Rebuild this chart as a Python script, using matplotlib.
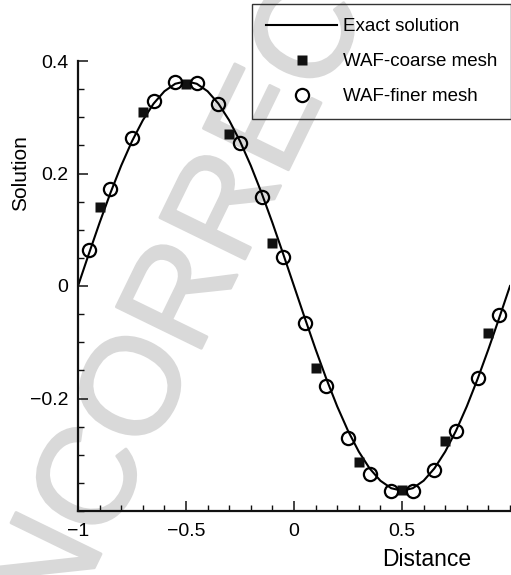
import matplotlib.pyplot as plt
from matplotlib import patheffects
from matplotlib.ticker import MultipleLocator

plt.rcParams['font.family'] = ['Liberation Sans', 'DejaVu Sans']

# exact solution sampled every 0.05
x_exact = [-1.00, -0.95, -0.90, -0.85, -0.80, -0.75, -0.70, -0.65, -0.60, -0.55,
           -0.50, -0.45, -0.40, -0.35, -0.30, -0.25, -0.20, -0.15, -0.10, -0.05,
           0.00, 0.05, 0.10, 0.15, 0.20, 0.25, 0.30, 0.35, 0.40, 0.45,
           0.50, 0.55, 0.60, 0.65, 0.70, 0.75, 0.80, 0.85, 0.90, 0.95, 1.00]
y_exact = [0.0, 0.0569, 0.1125, 0.1653, 0.2140, 0.2574, 0.2945, 0.3243, 0.3462, 0.3595,
           0.3640, 0.3595, 0.3462, 0.3243, 0.2945, 0.2574, 0.2140, 0.1653, 0.1125, 0.0569,
           0.0, -0.0569, -0.1125, -0.1653, -0.2140, -0.2574, -0.2945, -0.3243, -0.3462, -0.3595,
           -0.3640, -0.3595, -0.3462, -0.3243, -0.2945, -0.2574, -0.2140, -0.1653, -0.1125, -0.0569, 0.0]

# WAF, coarse mesh
x_coarse = [-0.9, -0.7, -0.5, -0.3, -0.1, 0.1, 0.3, 0.5, 0.7, 0.9]
y_coarse = [0.140, 0.310, 0.359, 0.271, 0.077, -0.145, -0.312, -0.363, -0.275, -0.083]

# WAF, finer mesh
x_fine = [-0.95, -0.85, -0.75, -0.65, -0.55, -0.45, -0.35, -0.25, -0.15, -0.05,
          0.05, 0.15, 0.25, 0.35, 0.45, 0.55, 0.65, 0.75, 0.85, 0.95]
y_fine = [0.064, 0.173, 0.264, 0.329, 0.363, 0.361, 0.324, 0.254, 0.159, 0.052,
          -0.066, -0.177, -0.270, -0.335, -0.365, -0.365, -0.327, -0.258, -0.164, -0.052]

x_ticks = [-1, -0.5, 0, 0.5]
x_ticklabels = ['\u22121', '\u22120.5', '0', '0.5']
y_ticks = [-0.2, 0, 0.2, 0.4]
y_ticklabels = ['\u22120.2', '0', '0.2', '0.4']

fig = plt.figure(figsize=(5.11, 5.75), dpi=100)
ax = fig.add_axes([78 / 511, 64 / 575, 432 / 511, 450 / 575])
ax.set_facecolor('none')

# grey stamp running diagonally behind the plot
wm = fig.text(0.44, 0.478, 'INCORRECT', rotation=64, rotation_mode='anchor',
              ha='center', va='baseline', fontsize=99, color='#d9d9d9', zorder=-1)
wm.set_path_effects([patheffects.withStroke(linewidth=2, foreground='#d9d9d9')])

ax.plot(x_exact, y_exact, color='black', lw=1.5, label='Exact solution', zorder=2)
ax.plot(x_coarse, y_coarse, ls='none', marker='s', ms=7.5, mfc='#111111', mec='none',
        label='WAF-coarse mesh', zorder=3)
ax.plot(x_fine, y_fine, ls='none', marker='o', ms=9.5, mfc='none', mec='black', mew=1.6,
        label='WAF-finer mesh', zorder=3)

ax.set_xlim(-1, 1)
ax.set_ylim(-0.4, 0.4)
ax.set_xticks(x_ticks)
ax.set_xticklabels(x_ticklabels)
ax.set_yticks(y_ticks)
ax.set_yticklabels(y_ticklabels)
ax.xaxis.set_minor_locator(MultipleLocator(0.1))
ax.yaxis.set_minor_locator(MultipleLocator(0.05))

for side in ['top', 'right']:
    ax.spines[side].set_visible(False)
for side in ['left', 'bottom']:
    ax.spines[side].set_linewidth(1.6)
    ax.spines[side].set_color('#111111')

ax.tick_params(which='major', direction='in', length=7.5, width=1.1, labelsize=14,
               color='#111111')
ax.tick_params(which='minor', direction='in', length=4, width=1.0, color='#111111')
ax.tick_params(axis='y', which='major', pad=7)
ax.tick_params(axis='x', which='major', pad=9)

ax.set_xlabel('Distance', fontsize=16.5, va='center')
ax.xaxis.set_label_coords(0.808, -0.108)
ax.set_ylabel('Solution', fontsize=15, va='center')
ax.yaxis.set_label_coords(-0.132, 0.75)

leg = ax.legend(loc='upper left', bbox_to_anchor=(252 / 511, 1 - 4 / 575),
                bbox_transform=fig.transFigure, borderaxespad=0, fontsize=13.5,
                handlelength=3.8, handletextpad=0.3, labelspacing=0.95,
                borderpad=0.75, numpoints=1, fancybox=False, framealpha=1)
leg.get_frame().set_facecolor('none')
leg.get_frame().set_edgecolor('#333333')
leg.get_frame().set_linewidth(1.0)

fig.savefig('out.png', dpi=100)
